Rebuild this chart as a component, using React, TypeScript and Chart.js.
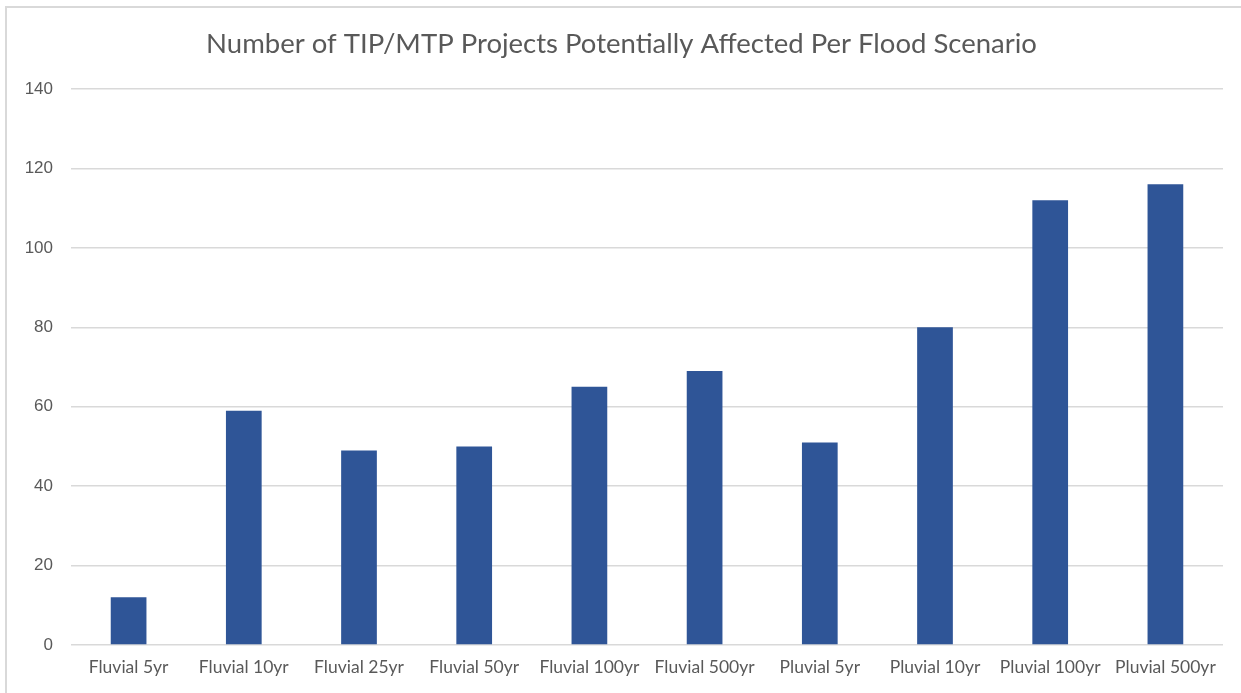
import React, { useEffect, useRef } from "react";
import { Chart, registerables } from "chart.js";

Chart.register(...registerables);

const categories = [
  "Fluvial 5yr",
  "Fluvial 10yr",
  "Fluvial 25yr",
  "Fluvial 50yr",
  "Fluvial 100yr",
  "Fluvial 500yr",
  "Pluvial 5yr",
  "Pluvial 10yr",
  "Pluvial 100yr",
  "Pluvial 500yr",
];
const projectCounts = [12, 59, 49, 50, 65, 69, 51, 80, 112, 116];
const yMin = 0;
const yMax = 140;
const yStep = 20;
const chartTitle = "Number of TIP/MTP Projects Potentially Affected Per Flood Scenario";

export default function App() {
  const canvasRef = useRef<HTMLCanvasElement | null>(null);

  useEffect(() => {
    if (!canvasRef.current) return;
    const font = "Lato, 'Open Sans', sans-serif";
    const numFont = "'Liberation Sans', Arial, sans-serif";
    const chart = new Chart(canvasRef.current, {
      type: "bar",
      data: {
        labels: categories,
        datasets: [
          {
            label: "Projects",
            data: projectCounts,
            backgroundColor: "#2F5597",
            borderWidth: 0,
            barPercentage: 0.31,
            categoryPercentage: 1,
          },
        ],
      },
      options: {
        animation: false,
        responsive: false,
        maintainAspectRatio: false,
        layout: { padding: { left: 20, right: 18, top: 0, bottom: 0 } },
        plugins: {
          legend: { display: false },
          tooltip: { enabled: false },
          title: {
            display: true,
            text: chartTitle,
            color: "#595959",
            font: { family: font, size: 27.5, weight: "normal", lineHeight: 1.2 },
            padding: { top: 28, bottom: 28 },
          },
        },
        scales: {
          x: {
            grid: { display: false, drawTicks: false },
            border: { display: false },
            ticks: {
              color: "#595959",
              font: { family: font, size: 17.5 },
              padding: 12,
              maxRotation: 0,
              autoSkip: false,
            },
            afterFit: (scale: any) => {
              scale.height = 48;
            },
          },
          y: {
            min: yMin,
            max: yMax,
            ticks: {
              stepSize: yStep,
              color: "#595959",
              font: { family: numFont, size: 17 },
              padding: 18,
            },
            grid: { color: "#D9D9D9", lineWidth: 1.5, drawTicks: false },
            border: { display: false },
            afterFit: (scale: any) => {
              scale.width = 51;
            },
          },
        },
      },
    });
    return () => chart.destroy();
  }, []);

  return (
    <div
      style={{
        position: "fixed",
        left: 0,
        top: 0,
        width: 1241,
        height: 693,
        background: "#ffffff",
        overflow: "hidden",
      }}
    >
      <div
        style={{
          position: "absolute",
          left: 5,
          top: 6,
          right: -10,
          bottom: -10,
          borderLeft: "2px solid #D9D9D9",
          borderTop: "2px solid #D9D9D9",
        }}
      />
      <canvas
        ref={canvasRef}
        width={1241}
        height={693}
        style={{ position: "absolute", left: 0, top: 0, width: 1241, height: 693 }}
      />
    </div>
  );
}
